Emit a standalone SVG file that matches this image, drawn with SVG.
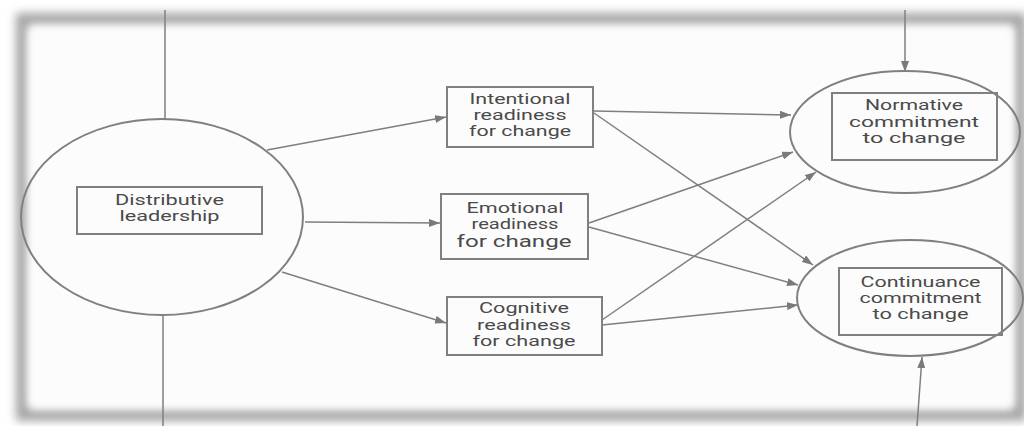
<svg xmlns="http://www.w3.org/2000/svg" width="1024" height="426" viewBox="0 0 1024 426">
  <defs>
    <filter id="blur" x="-5%" y="-5%" width="110%" height="110%">
      <feGaussianBlur stdDeviation="5"/>
    </filter>
    <marker id="arr" markerUnits="userSpaceOnUse" markerWidth="11" markerHeight="8" refX="11" refY="4" orient="auto">
      <path d="M0,0 L11,4 L0,8 z" fill="#7a7a7a"/>
    </marker>
    <style>
      .box { fill: none; stroke: #808080; stroke-width: 2; }
      .ell { fill: none; stroke: #808080; stroke-width: 2; }
      .con { stroke: #7f7f7f; stroke-width: 1.5; fill: none; }
      .arw { marker-end: url(#arr); }
      text { font-family: Roboto, "Liberation Sans", sans-serif; font-size: 15px; fill: #4a4a4a; text-anchor: middle; }
      .big { font-size: 17px; }
    </style>
  </defs>

  <rect x="0" y="0" width="1024" height="426" fill="#ffffff"/>
  <g id="frame">
    <rect x="22" y="19" width="998" height="396" fill="none" stroke="#a4a4a4" stroke-width="12" filter="url(#blur)"/>
    <rect x="30" y="28" width="982" height="379" fill="#fcfcfc" filter="url(#blur)"/>
  </g>

  <g id="connectors">
    <line class="con" x1="165" y1="10" x2="165" y2="119"/>
    <line class="con" x1="163" y1="316" x2="163" y2="426"/>
    <line class="con arw" x1="905" y1="10" x2="905" y2="72"/>
    <line class="con arw" x1="917" y1="426" x2="922" y2="357"/>
    <line class="con arw" x1="267" y1="150" x2="446" y2="117"/>
    <line class="con arw" x1="305" y1="222" x2="440" y2="223"/>
    <line class="con arw" x1="282" y1="272" x2="446" y2="323"/>
    <line class="con arw" x1="594" y1="111" x2="791" y2="115"/>
    <line class="con arw" x1="594" y1="113" x2="813" y2="265"/>
    <line class="con arw" x1="589" y1="223" x2="793" y2="152"/>
    <line class="con arw" x1="589" y1="227" x2="798" y2="285"/>
    <line class="con arw" x1="602" y1="320" x2="816" y2="172"/>
    <line class="con arw" x1="602" y1="325" x2="798" y2="305"/>
  </g>

  <g id="distributive-leadership">
    <ellipse class="ell" cx="162" cy="217" rx="141" ry="98"/>
    <rect class="box" x="77" y="187" width="185" height="47"/>
    <text x="169.5" y="205" textLength="109" lengthAdjust="spacingAndGlyphs">Distributive</text>
    <text x="169.5" y="221" textLength="100" lengthAdjust="spacingAndGlyphs">leadership</text>
  </g>

  <g id="intentional-readiness">
    <rect class="box" x="447" y="87" width="146" height="60"/>
    <text x="520" y="104" textLength="101" lengthAdjust="spacingAndGlyphs">Intentional</text>
    <text x="520" y="120" textLength="93" lengthAdjust="spacingAndGlyphs">readiness</text>
    <text x="520" y="136" textLength="102" lengthAdjust="spacingAndGlyphs">for change</text>
  </g>

  <g id="emotional-readiness">
    <rect class="box" x="441" y="194" width="147" height="65"/>
    <text x="515" y="212.5" textLength="97" lengthAdjust="spacingAndGlyphs">Emotional</text>
    <text x="515" y="229" textLength="87" lengthAdjust="spacingAndGlyphs">readiness</text>
    <text class="big" x="514" y="247" textLength="115" lengthAdjust="spacingAndGlyphs">for change</text>
  </g>

  <g id="cognitive-readiness">
    <rect class="box" x="447" y="297" width="155" height="58"/>
    <text x="524" y="313" textLength="90" lengthAdjust="spacingAndGlyphs">Cognitive</text>
    <text x="524" y="330" textLength="94" lengthAdjust="spacingAndGlyphs">readiness</text>
    <text x="524" y="346" textLength="103" lengthAdjust="spacingAndGlyphs">for change</text>
  </g>

  <g id="normative-commitment">
    <ellipse class="ell" cx="905" cy="132" rx="115" ry="61"/>
    <rect class="box" x="832" y="93" width="165" height="67"/>
    <text x="914" y="110" textLength="98" lengthAdjust="spacingAndGlyphs">Normative</text>
    <text x="914" y="126.5" textLength="130" lengthAdjust="spacingAndGlyphs">commitment</text>
    <text x="914" y="142.5" textLength="103" lengthAdjust="spacingAndGlyphs">to change</text>
  </g>

  <g id="continuance-commitment">
    <ellipse class="ell" cx="910" cy="298" rx="113" ry="58"/>
    <rect class="box" x="839" y="268" width="163" height="67"/>
    <text x="920.5" y="286.5" textLength="120" lengthAdjust="spacingAndGlyphs">Continuance</text>
    <text x="920.5" y="302.5" textLength="122" lengthAdjust="spacingAndGlyphs">commitment</text>
    <text x="920.5" y="318.5" textLength="96" lengthAdjust="spacingAndGlyphs">to change</text>
  </g>
</svg>
